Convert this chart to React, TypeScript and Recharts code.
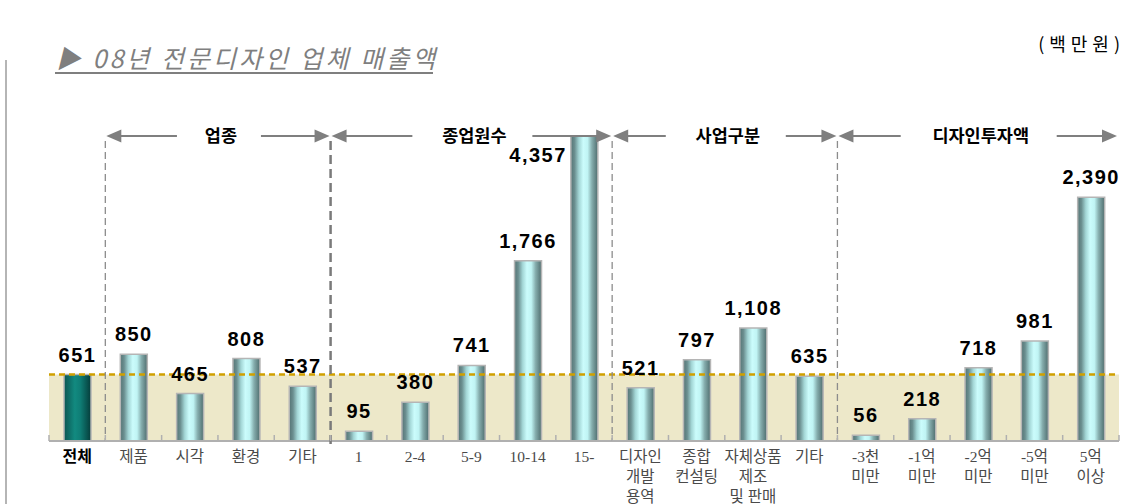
import { BarChart, Bar, XAxis, YAxis, Cell, LabelList, ReferenceArea, ReferenceLine } from 'recharts';

// 카테고리 (줄바꿈은 축 레이블 줄)
const categories = [
  '전체',
  '제품', '시각', '환경', '기타',
  '1', '2-4', '5-9', '10-14', '15-',
  '디자인\n개발\n용역', '종합\n컨설팅', '자체상품\n제조\n및 판매', '기타',
  '-3천\n미만', '-1억\n미만', '-2억\n미만', '-5억\n미만', '5억\n이상',
];
const sales = [651, 850, 465, 808, 537, 95, 380, 741, 1766, 4357, 521, 797, 1108, 635, 56, 218, 718, 981, 2390];

const groupNames = ['업종', '종업원수', '사업구분', '디자인투자액'];
const groupStarts = [1, 5, 10, 14];
const groupEnds = [5, 10, 14, 19];

const TOTAL = 651;
const Y_MAX = 3000;

const data = categories.map((name, i) => ({ name, value: sales[i] }));

// layout
const W = 1130;
const H = 504;
const M = { top: 135, right: 11, left: 49 };
const AXIS_H = 63;
const PLOT_BOTTOM = H - AXIS_H;
const BAND = (W - M.left - M.right) / categories.length;
const bx = (i: number) => M.left + i * BAND;

const GRAY = '#7f7f7f';

const Tick = ({ x, y, payload, index }: any) => {
  const lines = String(payload.value).split('\n');
  const isTotal = index === 0;
  return (
    <g>
      {lines.map((l, i) => (
        <text
          key={i}
          x={x}
          y={y + 21 + i * 20}
          textAnchor="middle"
          fill={isTotal ? '#000' : '#4a4a4a'}
          fontSize={isTotal ? 16 : 15.5}
          fontWeight={isTotal ? 700 : 400}
          fontFamily={isTotal ? '"Noto Sans CJK KR", sans-serif' : '"Liberation Serif", "Noto Sans CJK KR", serif'}
        >
          {l}
        </text>
      ))}
    </g>
  );
};

const ValueLabel = ({ x, y, width, value }: any) => {
  const over = value > Y_MAX;
  const text = Number(value).toLocaleString('en-US');
  return (
    <text
      x={over ? x - 4 : x + width / 2}
      y={over ? M.top + 27 : y - 13}
      textAnchor={over ? 'end' : 'middle'}
      fontSize={20}
      fontWeight={700}
      letterSpacing={1.5}
      fontFamily='"Liberation Sans", Arial, sans-serif'
      fill="#000"
    >
      {text}
    </text>
  );
};

const Arrow = ({ x, dir }: { x: number; dir: number }) => {
  const y = 136;
  return <polygon points={`${x},${y} ${x - dir * 15},${y - 6.5} ${x - dir * 15},${y + 6.5}`} fill={GRAY} />;
};

const Overlay = () => (
  <svg width={W} height={H} style={{ position: 'absolute', left: 0, top: 0, pointerEvents: 'none' }}>
    {/* 왼쪽 테두리 */}
    <line x1={6} y1={60} x2={6} y2={H} stroke="#b5b5b5" strokeWidth={2} />

    {/* 제목 */}
    <text x={56} y={68} fontSize={25} fontStyle="italic" letterSpacing={3} fill={GRAY}
      fontFamily='"Noto Sans CJK KR", sans-serif'>
      ▶ 08년 전문디자인 업체 매출액
    </text>
    <line x1={55} y1={73} x2={433} y2={73} stroke={GRAY} strokeWidth={2} />

    {/* 단위 */}
    <text x={1125} y={51} textAnchor="end" fontSize={18} letterSpacing={5} fill="#000"
      fontFamily='"Noto Sans CJK KR", sans-serif'>
      (백만원)
    </text>

    {/* 구분선 */}
    {groupStarts.map((s, i) => (
      <line key={s} x1={bx(s)} y1={141} x2={bx(s)} y2={PLOT_BOTTOM + (i === 1 ? 4 : 0)}
        stroke={i === 1 ? '#7a7a7a' : '#8c8c8c'}
        strokeWidth={i === 1 ? 2.5 : 1.3}
        strokeDasharray={i === 1 ? '9 5' : '7 4'} />
    ))}

    {/* 그룹 머리글 */}
    {groupNames.map((g, i) => {
      const xa = bx(groupStarts[i]) + 1;
      const xb = Math.min(bx(groupEnds[i]), W - 12) - 1;
      const cx = (xa + xb) / 2 + 3;
      const tw = g.length * 18;
      return (
        <g key={g}>
          <line x1={xa + 10} y1={136} x2={cx - tw / 2 - 26} y2={136} stroke={GRAY} strokeWidth={2} />
          <line x1={cx + tw / 2 + 22} y1={136} x2={xb - 10} y2={136} stroke={GRAY} strokeWidth={2} />
          <Arrow x={xa} dir={-1} />
          <Arrow x={xb} dir={1} />
          <text x={cx} y={142} textAnchor="middle" fontSize={17.5} fontWeight={700} fill="#000"
            fontFamily='"Noto Sans CJK KR", sans-serif'>
            {g}
          </text>
        </g>
      );
    })}

    {/* 축 눈금 (경계) */}
    {categories.map((_, i) => (
      <line key={i} x1={bx(i)} y1={PLOT_BOTTOM - 6} x2={bx(i)} y2={PLOT_BOTTOM} stroke="#b0b0b0" strokeWidth={1.5} />
    ))}
    <line x1={bx(categories.length)} y1={PLOT_BOTTOM - 6} x2={bx(categories.length)} y2={PLOT_BOTTOM} stroke="#b0b0b0" strokeWidth={1.5} />
  </svg>
);

export default function App() {
  return (
    <div style={{ position: 'absolute', left: 0, top: 0, width: W, height: H, background: '#fff' }}>
      <BarChart width={W} height={H} data={data} margin={{ top: M.top, right: M.right, bottom: 0, left: M.left }}>
        <defs>
          <linearGradient id="cyl" x1="0" y1="0" x2="1" y2="0">
            <stop offset="0%" stopColor="#557475" />
            <stop offset="14%" stopColor="#6b8f90" />
            <stop offset="30%" stopColor="#a3d6d6" />
            <stop offset="46%" stopColor="#cbfcfc" />
            <stop offset="62%" stopColor="#c0f4f4" />
            <stop offset="78%" stopColor="#85adad" />
            <stop offset="100%" stopColor="#4f6d6e" />
          </linearGradient>
          <linearGradient id="cylTotal" x1="0" y1="0" x2="1" y2="0">
            <stop offset="0%" stopColor="#0b5652" />
            <stop offset="40%" stopColor="#128a80" />
            <stop offset="60%" stopColor="#0f7e76" />
            <stop offset="100%" stopColor="#053c3a" />
          </linearGradient>
        </defs>
        <XAxis
          dataKey="name"
          height={AXIS_H}
          interval={0}
          tickLine={false}
          tickSize={0}
          tickMargin={0}
          axisLine={{ stroke: '#b0b0b0', strokeWidth: 2 }}
          tick={<Tick />}
        />
        <YAxis hide domain={[0, Y_MAX]} allowDataOverflow />
        <ReferenceArea y1={0} y2={TOTAL} fill="#ede8c9" fillOpacity={1} stroke="none" />
        <ReferenceLine y={TOTAL} stroke="#d0a000" strokeWidth={2.5} strokeDasharray="6 4" />
        <Bar dataKey="value" barSize={27} stroke="#b5b5b5" strokeWidth={1.5} isAnimationActive={false}>
          {data.map((d, i) => (
            <Cell key={i} fill={i === 0 ? 'url(#cylTotal)' : 'url(#cyl)'} />
          ))}
          <LabelList dataKey="value" content={<ValueLabel />} />
        </Bar>
      </BarChart>
      <Overlay />
    </div>
  );
}
